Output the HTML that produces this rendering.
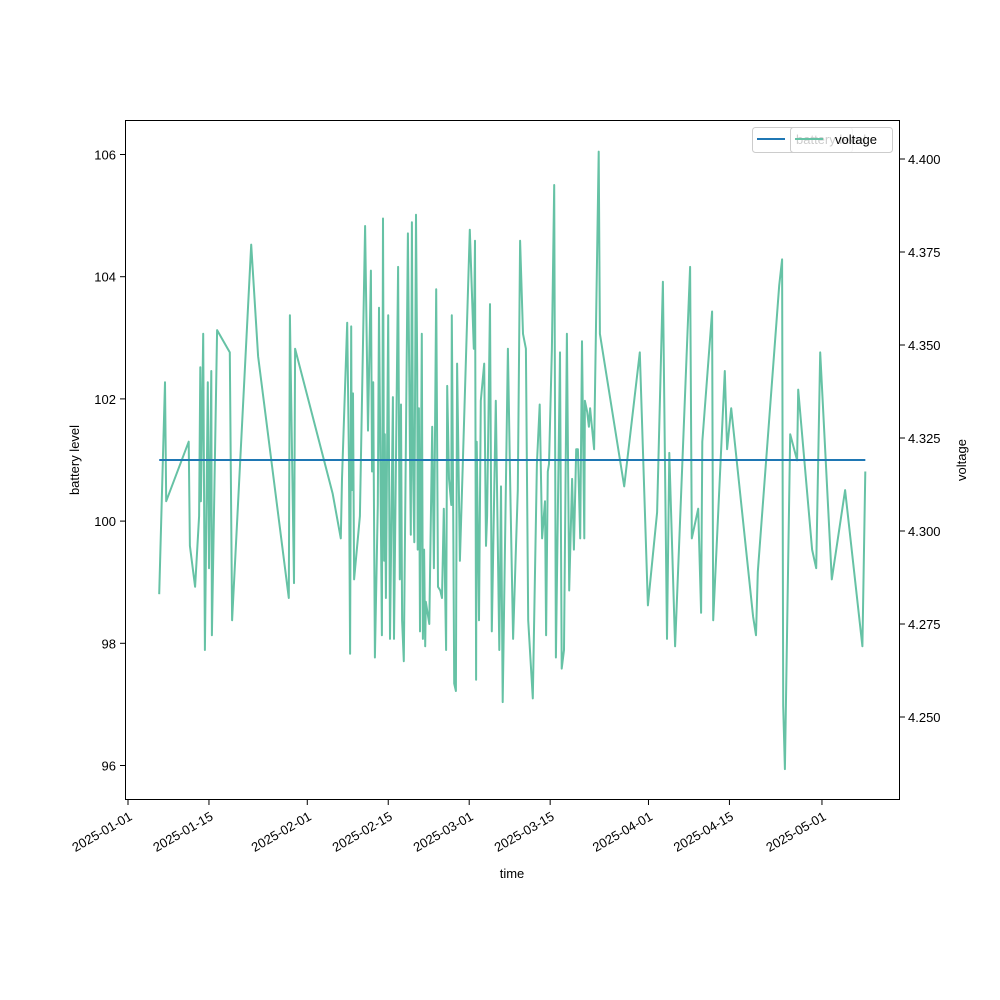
<!DOCTYPE html>
<html><head><meta charset="utf-8"><style>
body{margin:0;background:#fff}
svg{font-family:"Liberation Sans",sans-serif;display:block}
</style></head><body>
<svg id="c" width="1000" height="1000">
<rect x="0" y="0" width="1000" height="1000" fill="#fff"/>
<g id="plot"></g>
<text x="512" y="878" font-size="13" text-anchor="middle">time</text>
<text x="0" y="0" font-size="13" text-anchor="middle" transform="translate(79 460) rotate(-90)">battery level</text>
<text x="0" y="0" font-size="13" text-anchor="middle" transform="translate(966 460) rotate(-90)">voltage</text>
<g>
<rect x="752.5" y="127.5" width="100" height="25" rx="3" fill="#fff" fill-opacity="0.8" stroke="#ccc"/>
<line x1="757" x2="785" y1="139" y2="139" stroke="#1f77b4" stroke-width="2"/>
<text x="796" y="144" font-size="13">battery level</text>
</g>
<g>
<rect x="790.5" y="127.5" width="102" height="25" rx="3" fill="#fff" fill-opacity="0.8" stroke="#ccc"/>
<line x1="795" x2="823" y1="139" y2="139" stroke="#66c2a5" stroke-width="2"/>
<text x="835" y="144" font-size="13">voltage</text>
</g>
</svg>
<script>
const dayTicks=[0,14,31,45,59,73,90,104,120];
const dateLabels=["2025-01-01","2025-01-15","2025-02-01","2025-02-15","2025-03-01","2025-03-15","2025-04-01","2025-04-15","2025-05-01"];
const leftTicks=[96,98,100,102,104,106];
const rightTicks=[4.250,4.275,4.300,4.325,4.350,4.375,4.400];
const batteryDays=[5.4,127.5];
const batteryLevel=[101,101];
const voltDays=[5.4,6.4,6.6,10.5,10.7,11.6,12.3,12.5,12.6,13.0,13.3,13.8,14.0,14.4,14.5,15.4,17.6,18.0,21.3,22.5,27.8,28.0,28.7,28.9,35.4,36.8,37.0,37.9,38.2,38.4,38.6,38.7,38.9,39.1,40.1,41.0,41.5,42.0,42.2,42.4,42.7,43.2,43.4,43.9,44.1,44.3,44.4,44.6,45.0,45.3,45.8,46.0,46.7,47.0,47.2,47.4,47.7,48.4,48.8,48.9,49.1,49.3,49.5,49.8,50.0,50.1,50.3,50.5,50.8,51.0,51.2,51.4,51.5,52.1,52.6,52.9,53.3,53.6,54.0,54.3,54.6,55.0,55.2,55.5,55.9,56.0,56.2,56.4,56.7,56.9,57.4,59.1,59.8,60.0,60.2,60.3,60.7,61.0,61.6,61.9,62.1,62.6,62.9,63.6,64.2,64.5,64.8,65.7,66.1,66.6,67.1,67.4,67.8,68.3,68.8,69.2,70.0,70.7,71.2,71.6,72.1,72.3,72.6,72.8,73.3,73.7,74.0,74.7,75.0,75.4,75.9,76.3,76.8,77.1,77.5,77.8,78.2,78.5,78.9,79.0,79.4,79.7,79.9,80.6,81.4,81.6,85.8,88.5,89.9,91.5,92.5,93.2,93.6,94.6,97.2,97.5,98.6,99.1,99.3,101.0,101.2,103.2,103.6,104.3,108.1,108.6,108.9,112.6,113.1,113.3,113.6,114.5,115.7,115.9,118.3,119.0,119.7,121.7,124.0,127.0,127.5];
const voltValues=[4.283,4.340,4.308,4.324,4.296,4.285,4.304,4.344,4.308,4.353,4.268,4.340,4.290,4.343,4.272,4.354,4.348,4.276,4.377,4.347,4.282,4.358,4.286,4.349,4.310,4.298,4.314,4.356,4.320,4.267,4.355,4.311,4.337,4.287,4.304,4.382,4.327,4.370,4.316,4.340,4.266,4.307,4.360,4.272,4.384,4.292,4.326,4.282,4.358,4.271,4.336,4.271,4.371,4.287,4.334,4.276,4.265,4.380,4.314,4.299,4.383,4.315,4.297,4.385,4.343,4.295,4.333,4.273,4.353,4.271,4.295,4.269,4.281,4.275,4.328,4.290,4.365,4.285,4.284,4.282,4.306,4.268,4.339,4.314,4.307,4.358,4.314,4.259,4.257,4.345,4.292,4.381,4.349,4.378,4.260,4.324,4.276,4.335,4.345,4.296,4.304,4.361,4.273,4.335,4.268,4.312,4.254,4.349,4.311,4.271,4.296,4.311,4.378,4.353,4.349,4.276,4.255,4.318,4.334,4.298,4.308,4.272,4.316,4.318,4.349,4.393,4.266,4.348,4.263,4.268,4.353,4.284,4.314,4.295,4.322,4.322,4.298,4.351,4.298,4.335,4.332,4.328,4.333,4.322,4.402,4.353,4.312,4.348,4.280,4.305,4.367,4.271,4.321,4.269,4.371,4.298,4.306,4.278,4.324,4.359,4.276,4.343,4.322,4.333,4.277,4.272,4.289,4.366,4.373,4.253,4.236,4.326,4.319,4.338,4.295,4.290,4.348,4.287,4.311,4.269,4.316];

const NS="http://www.w3.org/2000/svg";
const g=document.getElementById('plot');
const X=d=>128+d*5.783;
const YL=v=>460-(v-101)*61.1;
const YR=v=>159+(4.4-v)*3720;
function mk(tag,attrs){const e=document.createElementNS(NS,tag);for(const k in attrs)e.setAttribute(k,attrs[k]);g.appendChild(e);return e;}

let p=voltDays.map((d,i)=>X(d).toFixed(1)+','+YR(voltValues[i]).toFixed(1)).join(' ');
const vl=mk('polyline',{points:p,fill:'none',stroke:'#66c2a5','stroke-width':2,'stroke-linejoin':'round'});


p=batteryDays.map((d,i)=>X(d)+','+YL(batteryLevel[i])).join(' ');
const bl=mk('polyline',{points:p,fill:'none',stroke:'#1f77b4','stroke-width':2});



const fr=mk('rect',{x:125.5,y:120.5,width:774,height:679,fill:'none',stroke:'#000','stroke-width':1});



dayTicks.forEach((d,i)=>{
  const x=X(d);
  mk('line',{x1:x,x2:x,y1:800,y2:805,stroke:'#000'});
  const t=mk('text',{x:x+5,y:819,'font-size':13,'text-anchor':'end',transform:`rotate(-30 ${x+5} 819)`});
  t.textContent=dateLabels[i];
  
  
});
leftTicks.forEach(v=>{
  const y=YL(v);
  mk('line',{x1:120,x2:125,y1:y,y2:y,stroke:'#000'});
  const t=mk('text',{x:116,y:y+5,'font-size':13,'text-anchor':'end'});
  t.textContent=v;
  
  
});
rightTicks.forEach(v=>{
  const y=YR(v);
  mk('line',{x1:900,x2:905,y1:y,y2:y,stroke:'#000'});
  const t=mk('text',{x:908,y:y+5,'font-size':13,'text-anchor':'start'});
  t.textContent=v.toFixed(3);
  
  
});
</script>
</body></html>
